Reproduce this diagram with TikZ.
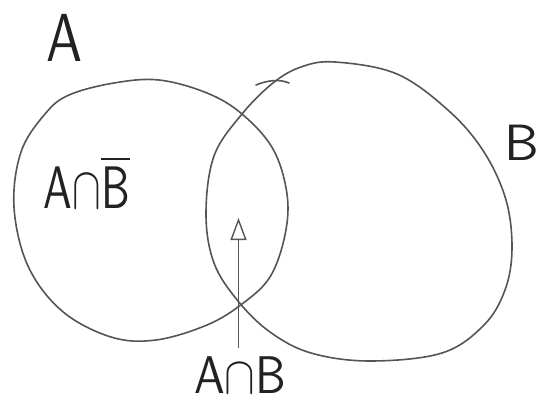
\documentclass[tikz,border=0pt]{standalone}
\usepackage{graphicx}
\usetikzlibrary{arrows.meta}
\definecolor{pen}{HTML}{555555}
\definecolor{ink}{HTML}{222222}
\begin{document}
\begin{tikzpicture}[x=1pt,y=-1pt,
  setline/.style={draw=pen,line width=1.6pt,line cap=round,line join=round},
  lbl/.style={text=ink,font=\sffamily,inner sep=0pt}]
\useasboundingbox[fill=white] (0,0) rectangle (542,405);
% set A
\draw[setline] plot[smooth cycle,tension=0.6] coordinates {
 (159,80) (207,93) (242,114) (273,149) (287,194) (285,235) (270,277)
 (242,304) (207,325) (156,340) (111,337) (62,311) (28,266) (14,207)
 (21,152) (45,114) (69,95) (114,83)};
% set B
\draw[setline] plot[smooth cycle,tension=0.6] coordinates {
 (335,62) (397,74) (449,111) (484,152) (506,200) (512,249) (505,290)
 (484,325) (442,353) (370,361) (311,353) (270,332) (238,301) (214,263)
 (206,214) (214,156) (242,114) (273,83) (301,67)};
\draw[setline] (256,85) .. controls (268,80) and (280,79) .. (289,83);
\node[lbl] (labA) at (65,38) {\scalebox{5.4}[6.8]{A}};
\node[lbl] (labB) at (522,143) {\scalebox{5.2}[5.1]{B}};
\node[lbl] (onlyA) at (87,182) {\scalebox{4.3}[6.0]{$\mathsf{A}{\cap}\overline{\mathsf{B}}$}};
\node[lbl] (both) at (240,375) {\scalebox{4.6}[5.3]{$\mathsf{A}{\cap}\mathsf{B}$}};
\coordinate (tip) at (238.5,218);
\draw[setline,line width=1.4pt,-{Triangle[open,length=22pt,width=16pt,line width=1.4pt]}] ([xshift=-1.5pt,yshift=9pt]both.north) -- (tip);
\end{tikzpicture}
\end{document}
